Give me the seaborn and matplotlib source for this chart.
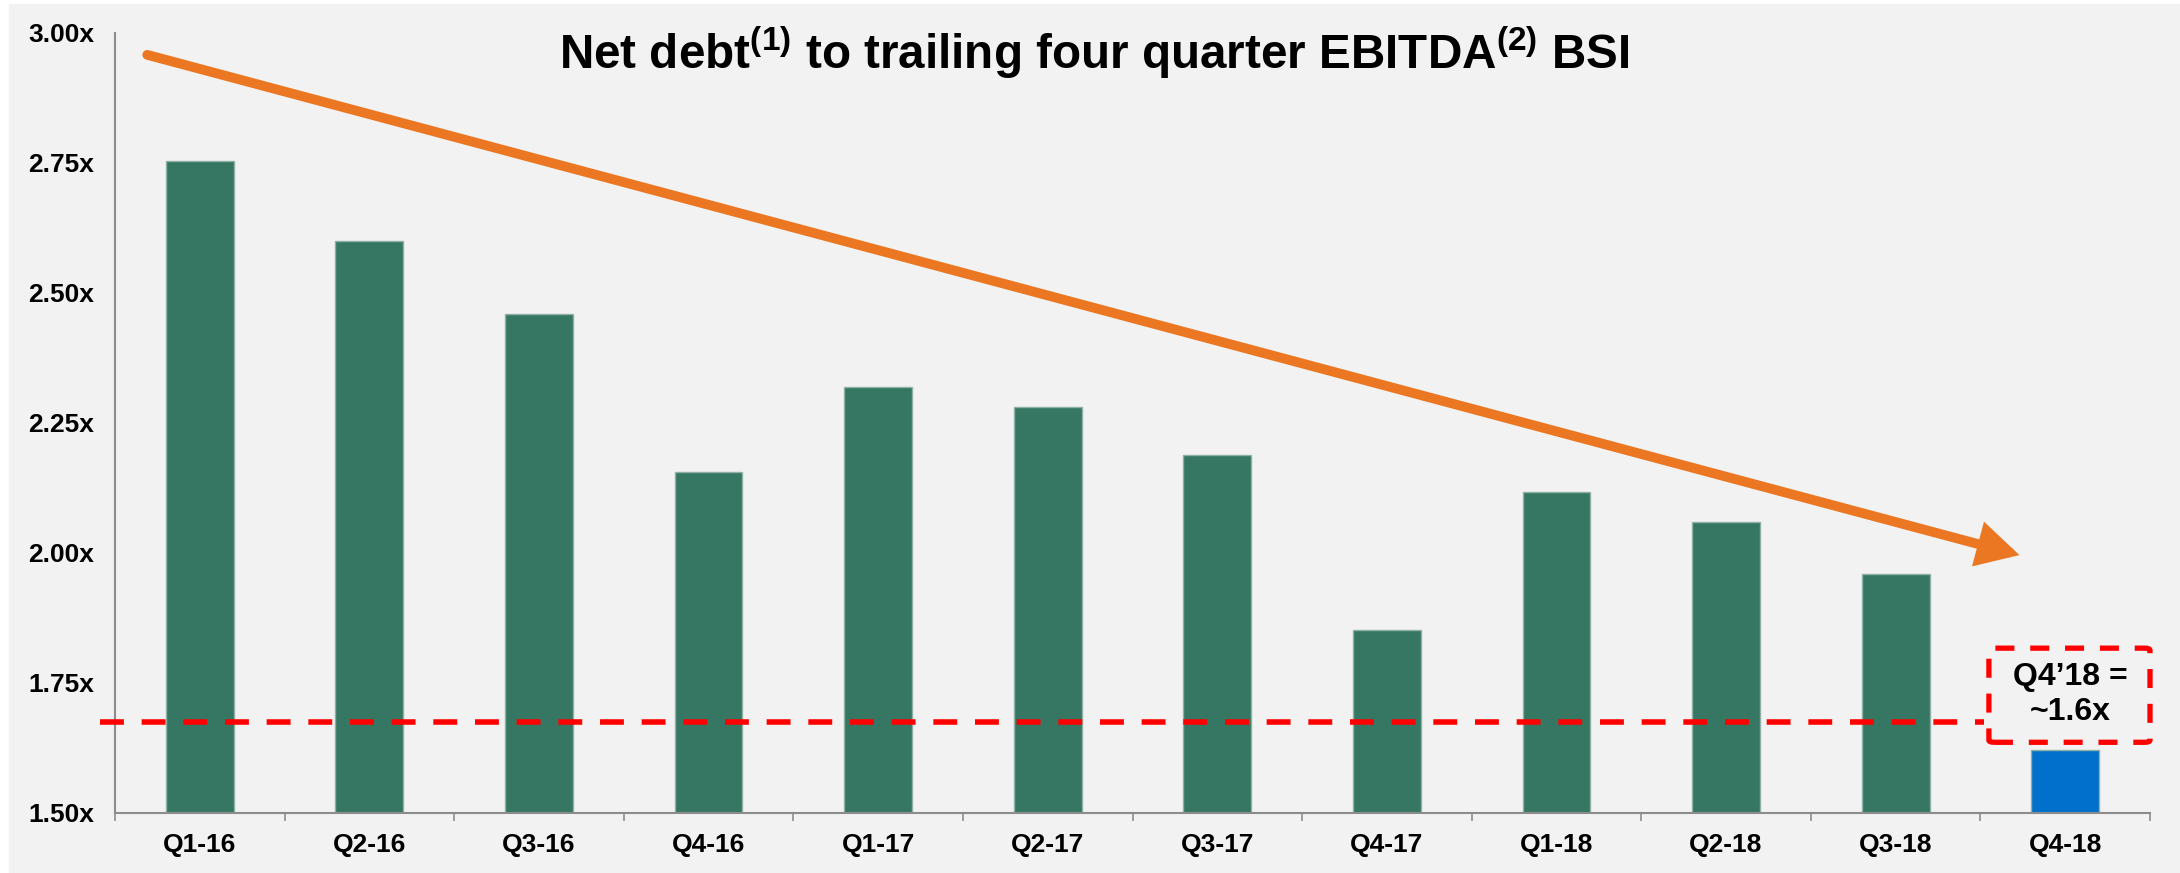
import matplotlib
matplotlib.use("Agg")
import matplotlib.pyplot as plt
from matplotlib.patches import Rectangle, FancyBboxPatch
import seaborn as sns
import numpy as np

quarters = ['Q1-16', 'Q2-16', 'Q3-16', 'Q4-16', 'Q1-17', 'Q2-17',
            'Q3-17', 'Q4-17', 'Q1-18', 'Q2-18', 'Q3-18', 'Q4-18']
leverage = [2.754, 2.60, 2.46, 2.155, 2.32, 2.28,
            2.188, 1.851, 2.117, 2.059, 1.959, 1.621]
bar_colors = ['#367763'] * 11 + ['#0070CC']
y_ticks = [1.50, 1.75, 2.00, 2.25, 2.50, 2.75, 3.00]
target_level = 1.675
trend_start = (-0.31, 2.958)
trend_end = (10.73, 1.996)
box_text = 'Q4\u201918 =\n~1.6x'

sns.set_style('white')
plt.rcParams['font.family'] = ['Liberation Sans', 'DejaVu Sans']
plt.rcParams['mathtext.fontset'] = 'custom'
plt.rcParams['mathtext.bf'] = 'Liberation Sans:bold'
plt.rcParams['mathtext.rm'] = 'Liberation Sans:bold'
plt.rcParams['text.color'] = 'black'

bg = '#F2F2F2'
grey = '#8C8C8C'

fig = plt.figure(figsize=(21.8, 8.73), dpi=100, facecolor='white')
# light grey slide background (small white margin top/left)
fig.patches.append(Rectangle((9 / 2180, 0), 1, 1 - 4 / 873,
                             transform=fig.transFigure, color=bg, zorder=-10))
ax = fig.add_axes([115 / 2180, 1 - 813 / 873, 2035 / 2180, 780 / 873])
ax.set_facecolor(bg)

sns.barplot(x=quarters, y=leverage, hue=quarters, palette=bar_colors,
            legend=False, width=0.4, saturation=1, ax=ax,
            edgecolor='#8FB0A4', linewidth=1)

ax.set_ylim(1.5, 3.0)
ax.set_xlim(-0.5, 11.5)
ax.set_yticks(y_ticks)
ax.set_yticklabels([f'{v:.2f}x' for v in y_ticks])
ax.set_xticks(range(len(quarters)))
ax.set_xticklabels(quarters)
ax.set_xticks(np.arange(-0.5, len(quarters), 1), minor=True)
ax.set_xlabel('')
ax.set_ylabel('')

for s in ['top', 'right']:
    ax.spines[s].set_visible(False)
for s in ['left', 'bottom']:
    ax.spines[s].set_color(grey)
    ax.spines[s].set_linewidth(1.5)

ax.tick_params(axis='y', which='major', direction='out', length=5.8, width=1.2,
               color=grey, pad=9, labelsize=19, labelcolor='black')
ax.tick_params(axis='x', which='major', length=0, pad=14.5, labelsize=19,
               labelcolor='black')
ax.tick_params(axis='x', which='minor', direction='out', length=5.8, width=1.2,
               color=grey, bottom=True)
for lab in ax.get_xticklabels() + ax.get_yticklabels():
    lab.set_fontweight('bold')

# target dashed line
ax.plot([-0.59, 10.52], [target_level, target_level], color='#FF0000', lw=4,
        linestyle=(0, (4.3, 3.2)), clip_on=False, zorder=5)

# dashed callout box
box = FancyBboxPatch((10.55, 1.636), 0.95, 0.181,
                     boxstyle='round,pad=0,rounding_size=0.03',
                     fill=False, edgecolor='#FF0000', lw=3.8,
                     linestyle=(0, (3.6, 3.0)), clip_on=False, zorder=6,
                     mutation_aspect=0.15)
ax.add_patch(box)
ax.text(11.03, 1.727, box_text, ha='center', va='center', fontsize=23,
        fontweight='bold', linespacing=1.22, color='black', zorder=7)

# downward trend arrow
ax.annotate('', xy=trend_end, xytext=trend_start,
            arrowprops=dict(arrowstyle='-|>,head_length=0.5,head_width=0.27',
                            mutation_scale=40, lw=7, color='#EB7722',
                            shrinkA=0, shrinkB=0, joinstyle='miter'),
            annotation_clip=False, zorder=4)

fig.text(1094 / 2180, 1 - 53 / 873,
         r'Net debt$^{\mathbf{(1)}}$ to trailing four quarter EBITDA$^{\mathbf{(2)}}$ BSI',
         ha='center', va='center', fontsize=34.3, fontweight='bold', color='black')

fig.savefig('out.png', dpi=100, facecolor=fig.get_facecolor())
